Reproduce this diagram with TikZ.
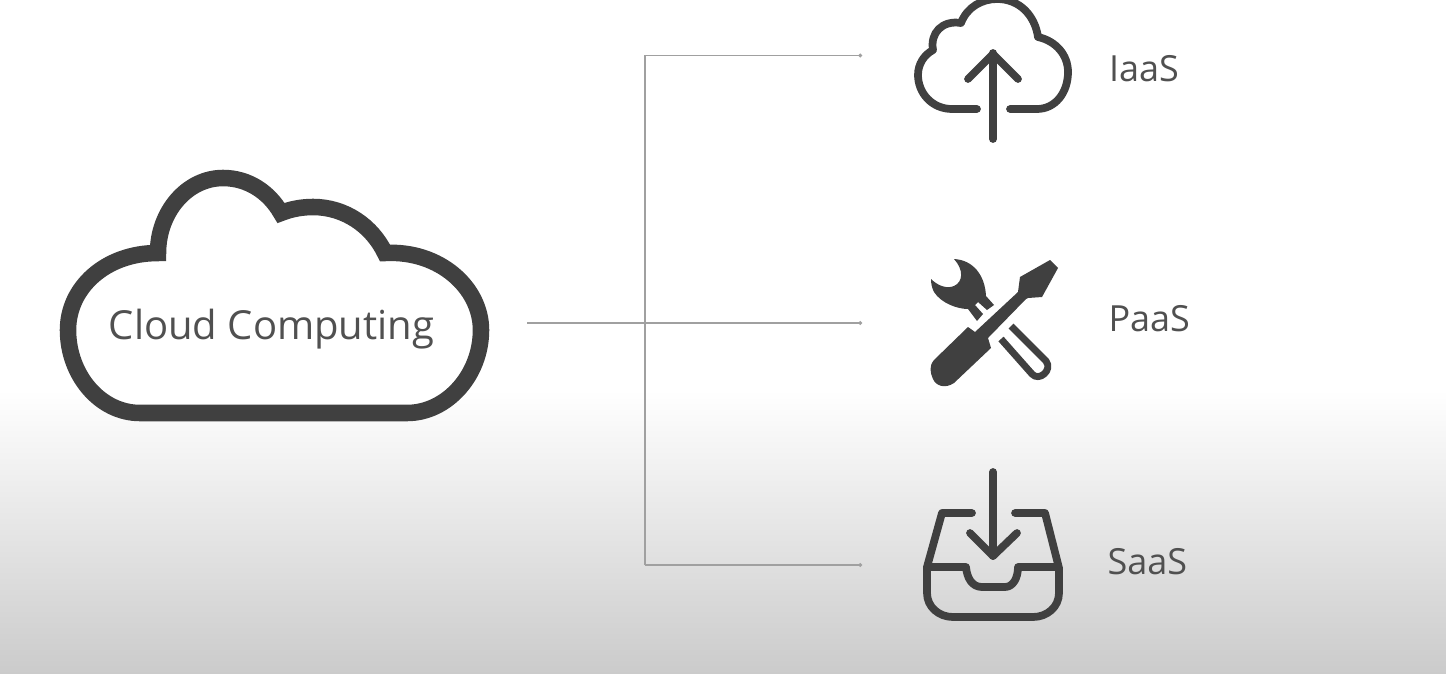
\documentclass[tikz,border=0pt]{standalone}
\usepackage{fontspec}
\usetikzlibrary{arrows.meta}
\setmainfont{Open Sans}
\definecolor{icon}{HTML}{404040}
\definecolor{wire}{HTML}{A0A0A0}
\definecolor{label}{HTML}{505050}
\definecolor{fadeend}{HTML}{CBCBCB}
\begin{document}
\begin{tikzpicture}[x=0.75pt,y=-0.75pt,
  line width=0.75pt,
  wireline/.style={draw=wire,line width=1.1pt},
  wiretip/.style={-{Circle[length=2.6pt,width=2.6pt]}},
  iconline/.style={draw=icon,line width=5.8pt,line cap=round,line join=round},
  bigcloud/.style={draw=icon,line width=12.4pt,line join=miter,fill=white},
  tag/.style={text=label,font=\fontsize{27}{30}\selectfont,inner sep=0pt,anchor=west}]
\useasboundingbox (0,0) rectangle (1446,674);
\fill[white] (0,0) rectangle (1446,390);
\shade[top color=white,bottom color=fadeend] (0,390) rectangle (1446,674);
% big cloud
\draw[bigcloud] (140,413) .. controls (100,413) and (68,375) .. (68,330)
  .. controls (68,288) and (105,253) .. (158,253)
  .. controls (158,212) and (187,178) .. (223,178)
  .. controls (248,178) and (269,192) .. (281,213)
  .. controls (291,209) and (302,207) .. (313,207)
  .. controls (345,207) and (372,226) .. (385,253)
  .. controls (440,250) and (481,288) .. (481,330)
  .. controls (481,375) and (447,413) .. (407,413) -- cycle;
\node[text=label,font=\fontsize{30}{34}\selectfont,inner sep=0pt] (cloud) at (271.5,329) {Cloud Computing};
% connector ends
\coordinate (out) at (527,323);
\coordinate (trunkTop) at (645,55.5);
\coordinate (trunkBottom) at (645,565);
\coordinate (iaasIn) at (862,55.5);
\coordinate (paasIn) at (862,323);
\coordinate (saasIn) at (862,565);
\draw[wireline,wiretip] (out) -- (paasIn);
\draw[wireline,wiretip] (trunkBottom) -- (trunkTop) -- (iaasIn);
\draw[wireline,wiretip] (trunkBottom) -- (saasIn);
% IaaS icon
\draw[iconline] (977,109) -- (952,109) .. controls (932,109) and (918,93) .. (918,75)
  .. controls (918,64) and (924,55) .. (933,50)
  .. controls (930,33) and (942,20) .. (961,23)
  .. controls (967,7) and (982,-1) .. (997,-1)
  .. controls (1020,-1) and (1035,16) .. (1038,37)
  .. controls (1056,41) and (1068,55) .. (1068,72)
  .. controls (1068,93) and (1055,109) .. (1037,109) -- (1010,109);
\draw[iconline] (993,139) -- (993,53);
\draw[iconline] (968,79) -- (993,54) -- (1018,79);
\node[tag] (iaas) at (1108.5,69) {IaaS};
% PaaS icon
\fill[icon] (1020,277) -- (1050,260) -- (1058,268) -- (1042,297) -- (1028,298) -- (1026,299)
  -- (988,338) -- (991,348) -- (954,383)
  .. controls (945,389) and (936,386) .. (933,379) .. controls (930,372) and (929,366) .. (934,360)
  -- (968,327) -- (975,332) -- (1018,292) -- cycle;
\fill[icon] (954,259) .. controls (973,260) and (985,275) .. (986,296)
  -- (994,305) -- (987,310) -- (978,302) -- (975,305) -- (983,314) -- (977,321) -- (968,309)
  .. controls (957,309) and (941,303) .. (934,292)
  .. controls (932,288) and (931,284) .. (931,279)
  .. controls (938,286) and (947,289) .. (954,286)
  .. controls (963,282) and (964,270) .. (954,259) -- cycle;
\draw[draw=icon,line width=5.2pt,line join=round] (1011,326) -- (1046,361)
  .. controls (1053,370) and (1039,382) .. (1032,374) -- (1001,339);
% SaaS icon
\draw[iconline] (993,472) -- (993,556);
\draw[iconline] (970,533) -- (993,556) -- (1017,533);
\draw[iconline] (972,513) -- (942,513) -- (927,567) -- (927,593)
  .. controls (927,607) and (939,617) .. (953,617) -- (1033,617)
  .. controls (1047,617) and (1059,607) .. (1059,593) -- (1059,568) -- (1045,513) -- (1015,513);
\draw[iconline] (928,567) -- (966,567) .. controls (967,578) and (972,587) .. (982,587)
  -- (1005,587) .. controls (1013,587) and (1018,578) .. (1018,567) -- (1057,567);
\node[tag] (saas) at (1107,562) {SaaS};
\node[tag] (paas) at (1108,319) {PaaS};
\end{tikzpicture}
\end{document}
